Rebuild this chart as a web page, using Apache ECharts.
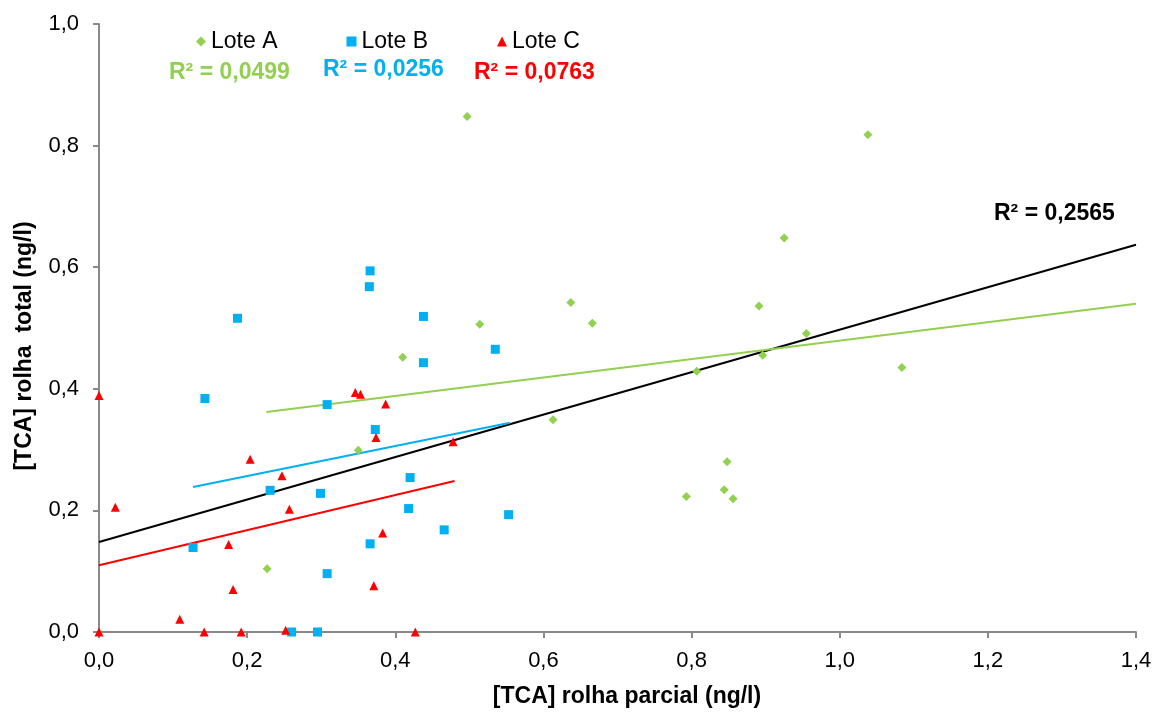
<!DOCTYPE html>
<html>
<head>
<meta charset="utf-8">
<script src="https://cdn.jsdelivr.net/npm/echarts@6/dist/echarts.min.js"></script>
<style>html,body{margin:0;padding:0;background:#fff}#c{width:1157px;height:712px}</style>
</head>
<body>
<div id="c"></div>
<script>
// Lote A [TCA parcial, TCA total]
var loteA = [
  [0.497,0.848],[1.038,0.818],[0.925,0.648],[0.637,0.542],[0.891,0.536],
  [0.514,0.506],[0.666,0.508],[0.955,0.491],[0.410,0.452],[0.896,0.455],
  [0.807,0.429],[1.084,0.435],[0.613,0.349],[0.350,0.299],[0.848,0.280],
  [0.844,0.234],[0.793,0.223],[0.856,0.219],[0.227,0.104]
];
var loteB = [
  [0.366,0.594],[0.365,0.568],[0.187,0.516],[0.143,0.384],[0.308,0.374],
  [0.373,0.333],[0.438,0.519],[0.438,0.443],[0.535,0.465],[0.231,0.233],
  [0.299,0.228],[0.127,0.139],[0.308,0.096],[0.366,0.145],[0.260,0.000],
  [0.295,0.000],[0.420,0.254],[0.418,0.203],[0.466,0.168],[0.553,0.193]
];
var loteC = [
  [0.000,0.389],[0.346,0.394],[0.353,0.391],[0.387,0.375],[0.374,0.320],
  [0.204,0.284],[0.247,0.257],[0.022,0.205],[0.257,0.202],[0.383,0.163],
  [0.175,0.144],[0.371,0.076],[0.181,0.070],[0.109,0.021],[0.000,0.000],
  [0.142,0.000],[0.192,0.000],[0.252,0.003],[0.478,0.313],[0.427,0.000]
];
// trend lines (endpoints)
var trendA = [[0.226,0.362],[1.4,0.540]];
var trendB = [[0.127,0.2385],[0.555,0.344]];
var trendC = [[0.0,0.1097],[0.48,0.2484]];
var trendAll = [[0.0,0.148],[1.4,0.637]];
var seriesNames = ['Lote A','Lote B','Lote C'];
var r2Labels = ['R² = 0,0499','R² = 0,0256','R² = 0,0763'];
var r2All = 'R² = 0,2565';
var xTitle = '[TCA] rolha parcial (ng/l)';
var yTitle = '[TCA] rolha  total (ng/l)';

var green = '#92D050', blue = '#00B0F0', red = '#FF0000';
var FONT = "'Liberation Sans', Arial, sans-serif";
var fmt = function (v) { return v.toFixed(1).replace('.', ','); };
var axisLine = {show: true, lineStyle: {color: '#898989', width: 2}};

var chart = echarts.init(document.getElementById('c'), null, {renderer: 'canvas'});
chart.setOption({
  animation: false,
  backgroundColor: '#fff',
  grid: {left: 99, right: 21, top: 24, bottom: 80, containLabel: false},
  xAxis: {
    type: 'value', min: 0, max: 1.4, interval: 0.2,
    axisLine: axisLine,
    axisTick: {show: true, length: 6, lineStyle: {color: '#898989', width: 2}},
    splitLine: {show: false},
    axisLabel: {formatter: fmt, color: '#000', fontSize: 22, fontFamily: FONT, margin: 18}
  },
  yAxis: {
    type: 'value', min: 0, max: 1, interval: 0.2,
    axisLine: axisLine,
    axisTick: {show: true, length: 6, lineStyle: {color: '#898989', width: 2}},
    splitLine: {show: false},
    axisLabel: {formatter: fmt, color: '#000', fontSize: 22, fontFamily: FONT, margin: 20}
  },
  legend: {
    left: 191, top: 25, itemGap: 69, itemWidth: 10, itemHeight: 10,
    textStyle: {fontSize: 23, fontFamily: FONT, color: '#000'},
    data: [
      {name: seriesNames[0], icon: 'diamond'},
      {name: seriesNames[1], icon: 'rect'},
      {name: seriesNames[2], icon: 'triangle'}
    ]
  },
  graphic: [
    {type: 'text', left: 169, top: 61, style: {text: r2Labels[0], fill: green, font: 'bold 23px ' + FONT}},
    {type: 'text', left: 323, top: 58, style: {text: r2Labels[1], fill: blue, font: 'bold 23px ' + FONT}},
    {type: 'text', left: 474, top: 61, style: {text: r2Labels[2], fill: red, font: 'bold 23px ' + FONT}},
    {type: 'text', left: 994, top: 202, style: {text: r2All, fill: '#000', font: 'bold 23px ' + FONT}},
    {type: 'text', x: 627, y: 697, style: {text: xTitle, fill: '#000', font: 'bold 23px ' + FONT, textAlign: 'center', textVerticalAlign: 'middle'}},
    {type: 'text', x: 25, y: 346, rotation: Math.PI / 2, style: {text: yTitle, fill: '#000', font: 'bold 23px ' + FONT, textAlign: 'center', textVerticalAlign: 'middle'}}
  ],
  series: [
    {name: 'trendAll', type: 'line', data: trendAll, showSymbol: false, symbol: 'none', lineStyle: {color: '#000', width: 2}, z: 1, silent: true},
    {name: 'trendA', type: 'line', data: trendA, showSymbol: false, symbol: 'none', lineStyle: {color: green, width: 2}, z: 1, silent: true},
    {name: 'trendB', type: 'line', data: trendB, showSymbol: false, symbol: 'none', lineStyle: {color: blue, width: 2}, z: 1, silent: true},
    {name: 'trendC', type: 'line', data: trendC, showSymbol: false, symbol: 'none', lineStyle: {color: red, width: 2}, z: 1, silent: true},
    {name: seriesNames[0], type: 'scatter', data: loteA, symbol: 'diamond', symbolSize: 9, itemStyle: {color: green, opacity: 1}, z: 3},
    {name: seriesNames[1], type: 'scatter', data: loteB, symbol: 'rect', symbolSize: 9, itemStyle: {color: blue, opacity: 1}, z: 3},
    {name: seriesNames[2], type: 'scatter', data: loteC, symbol: 'triangle', symbolSize: 9, itemStyle: {color: red, opacity: 1}, z: 3}
  ]
});
</script>
</body>
</html>
